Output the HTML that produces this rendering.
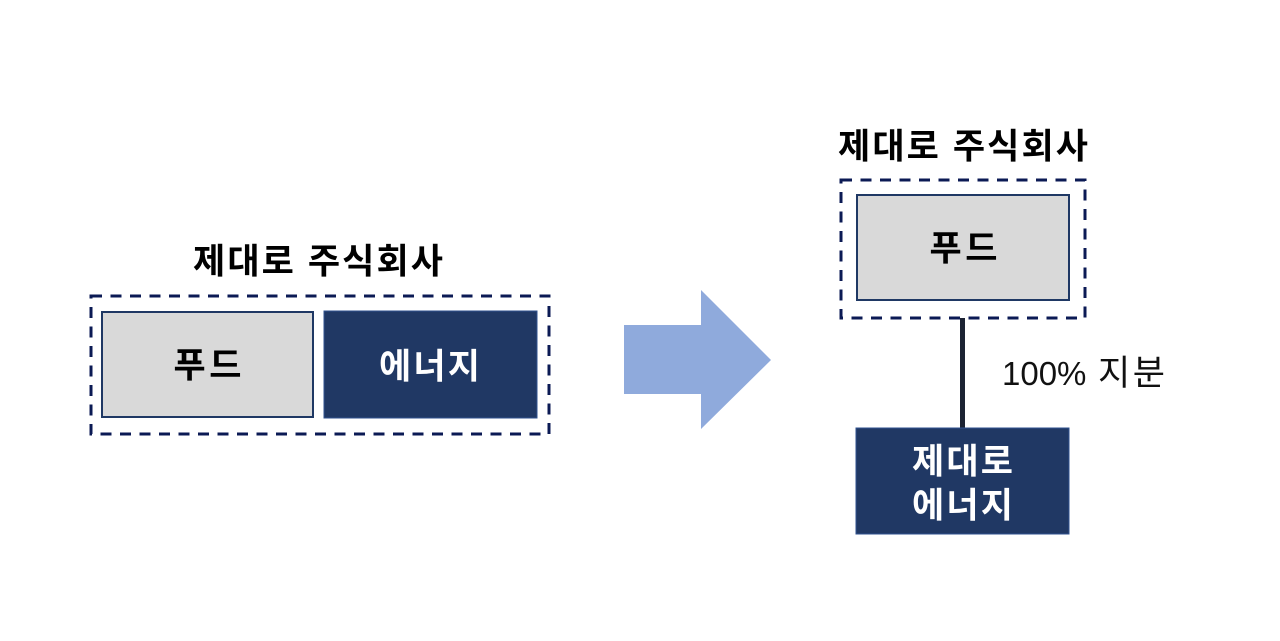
<!DOCTYPE html>
<html><head><meta charset="utf-8"><style>
html,body{margin:0;padding:0;background:#fff;width:1280px;height:641px;overflow:hidden}
svg{display:block}
text{font-family:"Liberation Sans","Noto Sans CJK KR",sans-serif}
.b{font-weight:700;font-size:35px}
</style></head><body>
<svg width="1280" height="641" viewBox="0 0 1280 641" xmlns="http://www.w3.org/2000/svg">
<rect x="91" y="296" width="458" height="138" fill="none" stroke="#0b1a54" stroke-width="3" stroke-dasharray="11 8.5"/>
<rect x="102" y="312" width="211" height="105" fill="#d9d9d9" stroke="#1f3864" stroke-width="2"/>
<rect x="324" y="311" width="213" height="107" fill="#203864" stroke="#2f528f" stroke-width="1"/>
<text class="b" x="193" y="273.500" textLength="250">제대로 주식회사</text>
<text class="b" x="173.500" y="377.500" textLength="68" fill="#000">푸드</text>
<text class="b" x="379" y="378.500" textLength="101" fill="#fff">에너지</text>
<polygon points="624,325 701,325 701,290 771,360 701,429 701,394 624,394" fill="#8faadc"/>
<line x1="962.500" y1="318" x2="962.500" y2="428" stroke="#1c2333" stroke-width="5"/>
<rect x="841" y="180" width="244" height="138" fill="none" stroke="#0b1a54" stroke-width="3" stroke-dasharray="11 8.500"/>
<rect x="857" y="195" width="212" height="105" fill="#d9d9d9" stroke="#1f3864" stroke-width="2"/>
<rect x="856" y="428" width="213" height="106" fill="#203864" stroke="#2f528f" stroke-width="1"/>
<text class="b" x="838" y="158.500" textLength="250">제대로 주식회사</text>
<text class="b" x="929.500" y="260.500" textLength="68" fill="#000">푸드</text>
<text class="b" x="912" y="473.500" textLength="101" fill="#fff">제대로</text>
<text class="b" x="912" y="517.500" textLength="101" fill="#fff">에너지</text>
<text x="1002" y="385" font-size="33" fill="#111">100%</text>
<text x="1098" y="385" font-size="35" textLength="67" fill="#111">지분</text>
</svg>
</body></html>
